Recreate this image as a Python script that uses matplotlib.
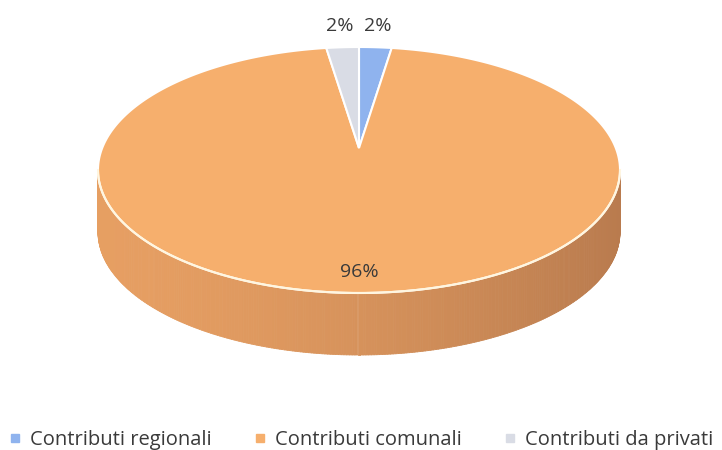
import numpy as np
import matplotlib.pyplot as plt
from matplotlib.patches import Polygon
from matplotlib.collections import PolyCollection
from matplotlib.lines import Line2D
from matplotlib.colors import to_rgb

# Dati
categorie = ["Contributi regionali", "Contributi comunali", "Contributi da privati"]
valori = [2, 96, 2]
etichette = ["2%", "96%", "2%"]
colori = ["#8FB3EE", "#F6AF6D", "#D9DCE5"]

# Geometria della torta (in pixel)
cx, cy = 359, 170
a, b = 261, 123
depth = 62
tip_dy = -22

fig = plt.figure(figsize=(7.22, 4.5), dpi=100)
ax = fig.add_axes([0, 0, 1, 1])
ax.set_xlim(0, 722)
ax.set_ylim(450, 0)
ax.axis("off")

def ell(t, dy=0):
    return cx + a * np.cos(t), cy + b * np.sin(t) + dy

# Lato (solo la meta' davanti, sfumato)
t = np.linspace(0, np.pi, 300)
c_dark = np.array(to_rgb("#B97B4E"))
c_light = np.array(to_rgb("#EEA566"))
quads, cols = [], []
for i in range(len(t) - 1):
    x0, y0 = ell(t[i])
    x1, y1 = ell(t[i + 1])
    quads.append([(x0, y0), (x1, y1), (x1, y1 + depth), (x0, y0 + depth)])
    f = (np.cos((t[i] + t[i + 1]) / 2) + 1) / 2  # 1 = destra, 0 = sinistra
    w = 0.15 + 0.85 * f ** 1.5
    cols.append(c_light * (1 - w) + c_dark * w)
ax.add_collection(PolyCollection(quads, facecolors=cols, edgecolors=cols, linewidths=0.6))

# Faccia superiore
tot = sum(valori)
start = -np.pi / 2
for v, col, lab in zip(valori, colori, etichette):
    ang = 2 * np.pi * v / tot
    tt = np.linspace(start, start + ang, max(3, int(400 * v / tot)))
    xs, ys = ell(tt)
    pts = [(cx, cy + tip_dy)] + list(zip(xs, ys))
    ax.add_patch(Polygon(pts, closed=True, facecolor=col, edgecolor="white", linewidth=1.5, zorder=3))
    mid = start + ang / 2
    r = 1.17 if v < 10 else 0.83
    lx, ly = cx + r * a * np.cos(mid), cy + r * b * np.sin(mid)
    ax.text(lx, ly, lab, ha="center", va="center", fontsize=14, color="#3a3a3a",
            family="Open Sans", zorder=5)
    start += ang

# bordo bianco davanti
xs, ys = ell(np.linspace(0, np.pi, 200))
ax.plot(xs, ys, color="#FFF6E0", lw=1.5, zorder=4)

# Legenda
handles = [Line2D([], [], marker="s", ls="", markersize=6, markerfacecolor=c, markeredgecolor=c)
           for c in colori]
fig.legend(handles, categorie, loc="lower center", bbox_to_anchor=(0.5, -0.035), ncol=3,
           frameon=False, handlelength=0.6, handletextpad=0.45, columnspacing=2.1,
           borderpad=0.3, prop={"family": "Open Sans", "size": 14.5}, labelcolor="#3a3a3a")

fig.savefig("out.png", dpi=100)
